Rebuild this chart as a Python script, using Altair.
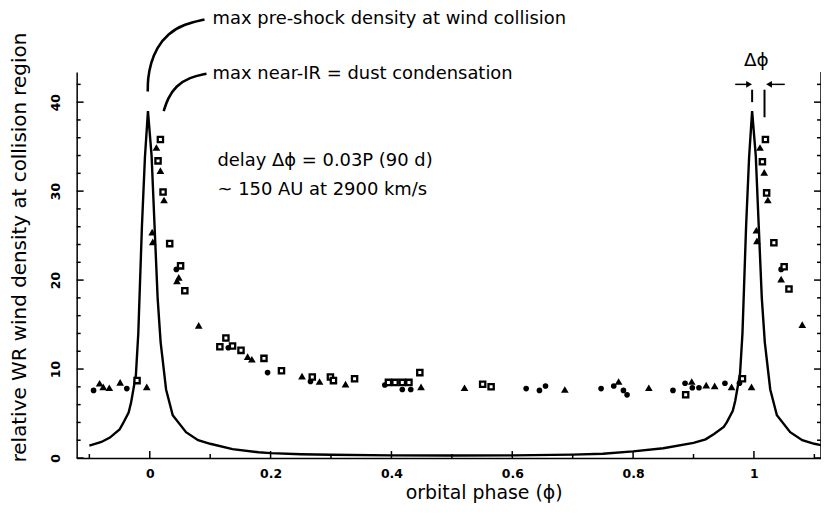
import altair as alt
import pandas as pd

# ---------------- data ----------------
curve_phase = [-0.100, -0.080, -0.066, -0.050, -0.045, -0.035, -0.031, -0.023, -0.019, -0.0165,
               -0.013, -0.008, -0.003, 0.003, 0.008, 0.013, 0.018, 0.027, 0.038, 0.060,
               0.080, 0.100, 0.137, 0.180, 0.200, 0.250, 0.300, 0.400, 0.500, 0.600,
               0.700, 0.750, 0.800, 0.850, 0.900, 0.920, 0.934, 0.950, 0.955, 0.965,
               0.969, 0.977, 0.981, 0.9835, 0.987, 0.992, 0.997, 1.003, 1.008, 1.013,
               1.018, 1.027, 1.038, 1.060, 1.080, 1.100, 1.111]
curve_value = [1.4, 1.8, 2.3, 3.2, 3.8, 5.1, 6.2, 9.3, 14.0, 19.0,
               26.0, 33.8, 39.0, 34.0, 26.0, 18.0, 13.0, 7.7, 4.8, 2.9,
               2.0, 1.6, 1.0, 0.65, 0.55, 0.42, 0.36, 0.30, 0.28, 0.30,
               0.38, 0.48, 0.75, 1.1, 1.7, 2.1, 2.7, 3.5, 4.0, 5.3,
               6.4, 9.5, 14.0, 19.0, 26.0, 33.8, 39.0, 34.0, 26.0, 18.0,
               13.0, 7.7, 4.8, 2.9, 2.0, 1.6, 1.45]

circle_phase = [-0.093, -0.038, 0.044, 0.130, 0.195, 0.266, 0.302, 0.389, 0.418, 0.432,
                0.623, 0.645, 0.655, 0.747, 0.768, 0.784, 0.790, 0.866, 0.886, 0.898,
                0.909, 0.952, 0.976, 1.045]
circle_value = [7.6, 7.8, 21.2, 12.4, 9.6, 8.6, 8.9, 8.2, 7.7, 7.7,
                7.8, 7.6, 8.1, 7.8, 8.1, 7.6, 7.1, 7.6, 8.4, 7.9,
                7.9, 8.4, 8.4, 21.2]

tri_phase = [-0.083, -0.077, -0.067, -0.049, -0.005, 0.004, 0.005, 0.011, 0.0176, 0.0236,
             0.045, 0.048, 0.081, 0.162, 0.169, 0.252, 0.281, 0.324, 0.449, 0.521,
             0.687, 0.776, 0.826, 0.897, 0.921, 0.935, 0.963, 0.996, 1.004, 1.005,
             1.010, 1.017, 1.023, 1.045, 1.080]
tri_value = [8.4, 8.0, 7.9, 8.5, 8.0, 25.4, 24.3, 34.9, 32.3, 29.0,
             19.9, 20.3, 14.9, 11.4, 11.1, 9.2, 8.6, 8.3, 8.0, 7.9,
             7.7, 8.6, 7.9, 8.6, 8.2, 8.1, 8.0, 8.0, 25.6, 24.4,
             34.9, 32.1, 29.0, 20.1, 15.0]

square_phase = [-0.021, 0.0137, 0.0176, 0.022, 0.033, 0.051, 0.058, 0.116, 0.126, 0.137,
                0.151, 0.189, 0.218, 0.269, 0.299, 0.304, 0.339, 0.395, 0.406, 0.418,
                0.429, 0.447, 0.551, 0.565, 0.887, 0.981, 1.014, 1.019, 1.021, 1.033,
                1.050, 1.058]
square_value = [8.7, 33.4, 35.8, 29.9, 24.1, 21.6, 18.8, 12.5, 13.5, 12.6,
                12.1, 11.2, 9.8, 9.1, 9.1, 8.7, 8.9, 8.5, 8.5, 8.5,
                8.5, 9.6, 8.3, 8.0, 7.1, 8.9, 33.3, 35.8, 29.8, 24.2,
                21.5, 19.0]

x_major = [0, 0.2, 0.4, 0.6, 0.8, 1.0]
x_minor = [-0.1, 0.1, 0.3, 0.5, 0.7, 0.9, 1.1]
y_major = [0, 10, 20, 30, 40]
y_minor = [2, 4, 6, 8, 12, 14, 16, 18, 22, 24, 26, 28, 32, 34, 36, 38, 42]

note_labels = ["max pre-shock density at wind collision", "max near-IR = dust condensation",
               "delay \u0394\u03d5 = 0.03P (90 d)", "~ 150 AU at 2900 km/s"]
note_phase = [0.104, 0.104, 0.112, 0.112]
note_value = [49.3, 43.2, 33.4, 30.1]

lead1_phase = [0.0906, 0.0577, 0.0296, 0.0115, 0.0016, -0.0033, -0.0033]
lead1_value = [49.3, 48.8, 47.7, 46.1, 44.4, 42.6, 41.2]
lead2_phase = [0.0939, 0.0659, 0.0428, 0.0296, 0.0231]
lead2_value = [43.2, 42.8, 41.8, 40.4, 39.0]

dphi_phase = [0.997, 1.0175]
dphi_top = [41.4, 41.4]
dphi_bot = [40.0, 38.3]

# ---------------- chart ----------------
X_MIN, X_MAX = -0.121, 1.111
Y_MIN, Y_MAX = 0, 43.4
W, H = 748, 388
FONT = "DejaVu Sans"

xs = alt.Scale(domain=[X_MIN, X_MAX], nice=False, zero=False)
ys = alt.Scale(domain=[Y_MIN, Y_MAX], nice=False, zero=False)

x_axis = alt.Axis(values=x_major, format="~g", ticks=False, tickSize=0, grid=False,
                  domainColor="black", domainWidth=1.5, labelFont=FONT, labelFontWeight="bold",
                  labelFontSize=12.5, labelColor="black", labelPadding=10,
                  title="orbital phase (\u03d5)", titleFont=FONT, titleFontSize=19,
                  titleFontWeight="normal", titleColor="black", titleX=409, titleY=35,
                  titleAlign="center", titleBaseline="middle")
y_axis = alt.Axis(values=y_major, ticks=False, tickSize=0, grid=False, labelAngle=270,
                  domainColor="black", domainWidth=1.5, labelFont=FONT, labelFontWeight="bold",
                  labelFontSize=12.5, labelColor="black", labelPadding=14,
                  title="relative WR wind density at collision region", titleFont=FONT,
                  titleFontSize=20, titleFontWeight="normal", titleColor="black",
                  titleAngle=270, titleX=-57, titleY=176, titleAlign="center",
                  titleBaseline="middle")


def px(field="phase"):
    return alt.X(f"{field}:Q", scale=xs, axis=x_axis)


def py(field="value"):
    return alt.Y(f"{field}:Q", scale=ys, axis=y_axis)


curve_df = pd.DataFrame({"phase": curve_phase, "value": curve_value})
circ_df = pd.DataFrame({"phase": circle_phase, "value": circle_value})
tri_df = pd.DataFrame({"phase": tri_phase, "value": tri_value})
sq_df = pd.DataFrame({"phase": square_phase, "value": square_value})

curve = alt.Chart(curve_df).mark_line(color="black", strokeWidth=2.4).encode(
    x=px(), y=py(), order=alt.Order("phase:Q"))

circles = alt.Chart(circ_df).mark_point(shape="circle", filled=True, color="black", size=32,
                                         opacity=1).encode(x=px(), y=py())
tris = alt.Chart(tri_df).mark_point(shape="triangle-up", filled=True, color="black", size=60,
                                     opacity=1).encode(x=px(), y=py())
squares = alt.Chart(sq_df).mark_point(shape="square", filled=True, fill="white", stroke="black",
                                       strokeWidth=2.3, size=28, opacity=1).encode(x=px(), y=py())

# inward ticks
ymaj_df = pd.DataFrame({"value": y_major})
ymin_df = pd.DataFrame({"value": y_minor})
xmaj_df = pd.DataFrame({"phase": x_major})
xmin_df = pd.DataFrame({"phase": x_minor})
tk = dict(color="black", strokeWidth=1.5)
ticks = [
    alt.Chart(ymaj_df).mark_rule(**tk).encode(y=py(), x=alt.value(0), x2=alt.value(7)),
    alt.Chart(ymin_df).mark_rule(**tk).encode(y=py(), x=alt.value(0), x2=alt.value(4)),
    alt.Chart(ymaj_df).mark_rule(**tk).encode(y=py(), x=alt.value(W), x2=alt.value(W - 7)),
    alt.Chart(ymin_df).mark_rule(**tk).encode(y=py(), x=alt.value(W), x2=alt.value(W - 4)),
    alt.Chart(xmaj_df).mark_rule(**tk).encode(x=px(), y=alt.value(H), y2=alt.value(H - 7)),
    alt.Chart(xmin_df).mark_rule(**tk).encode(x=px(), y=alt.value(H), y2=alt.value(H - 4)),
    alt.Chart(ymaj_df.head(1)).mark_rule(color="black", strokeWidth=1.5).encode(
        x=alt.value(W), y=alt.value(0), y2=alt.value(H)),
]

notes_df = pd.DataFrame({"phase": note_phase, "value": note_value, "label": note_labels})
notes = alt.Chart(notes_df).mark_text(align="left", baseline="middle", font=FONT, fontSize=18,
                                      color="black").encode(x=px(), y=py(), text="label:N")

dphi_df = pd.DataFrame({"phase": [1.004], "value": [44.7], "label": ["\u0394\u03d5"]})
dphi_text = alt.Chart(dphi_df).mark_text(align="center", baseline="middle", font=FONT,
                                         fontSize=18.5, color="black").encode(
    x=px(), y=py(), text="label:N")

l1 = pd.DataFrame({"phase": lead1_phase, "value": lead1_value, "i": range(len(lead1_phase))})
l2 = pd.DataFrame({"phase": lead2_phase, "value": lead2_value, "i": range(len(lead2_phase))})
lead1 = alt.Chart(l1).mark_line(color="black", strokeWidth=2.6, interpolate="basis").encode(
    x=px(), y=py(), order="i:Q")
lead2 = alt.Chart(l2).mark_line(color="black", strokeWidth=2.6, interpolate="basis").encode(
    x=px(), y=py(), order="i:Q")

dv = pd.DataFrame({"phase": dphi_phase, "value": dphi_top, "bot": dphi_bot})
dvert = alt.Chart(dv).mark_rule(color="black", strokeWidth=2).encode(
    x=px(), y=py(), y2="bot:Q")

arr_df = pd.DataFrame({"phase": [0.969, 1.051], "end": [0.991, 1.026], "value": [42.0, 42.0]})
arr_lines = alt.Chart(arr_df).mark_rule(color="black", strokeWidth=1.5).encode(
    x=px(), x2="end:Q", y=py())
head_r = alt.Chart(pd.DataFrame({"phase": [0.992], "value": [42.0]})).mark_point(
    shape="triangle-right", filled=True, color="black", size=45, opacity=1).encode(x=px(), y=py())
head_l = alt.Chart(pd.DataFrame({"phase": [1.025], "value": [42.0]})).mark_point(
    shape="triangle-left", filled=True, color="black", size=45, opacity=1).encode(x=px(), y=py())

chart = alt.layer(
    curve, *ticks, circles, tris, squares, notes, dphi_text, lead1, lead2, dvert,
    arr_lines, head_r, head_l,
).properties(
    width=W, height=H,
    padding={"left": 69, "top": 63, "right": 0, "bottom": 46},
    autosize=alt.AutoSizeParams(type="none"),
    background="white",
).configure_view(stroke=None)

chart.save("out.html", embed_options={"renderer": "svg", "actions": False})
